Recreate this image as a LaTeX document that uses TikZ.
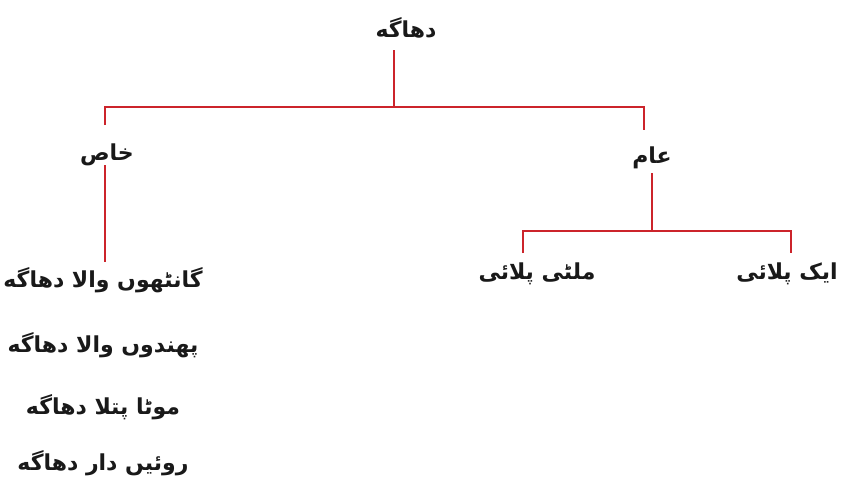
\documentclass[tikz,border=0pt]{standalone}
\usepackage{fontspec}
\newfontfamily\urdu[Script=Arabic]{DejaVu Sans}
\TeXXeTstate=1
\definecolor{linkred}{RGB}{204,36,43}
\tikzset{
  link/.style={draw=linkred, line width=2.6pt},
  label/.style={inner sep=0pt, font=\urdu\bfseries\fontsize{22}{26}\selectfont, text=black!90}
}
\begin{document}
\begin{tikzpicture}[x=1pt,y=-1pt]
\useasboundingbox (0,0) rectangle (847,490);
% labels
\node[label] (root)  at (406,28)  {\beginR دھاگه\endR};
\node[label] (khas)  at (107,155) {\beginR خاص\endR};
\node[label] (aam)   at (652,158) {\beginR عام\endR};
\node[label] (multi) at (537,274) {\beginR ملٹی پلائی\endR};
\node[label] (ek)    at (787,274) {\beginR ایک پلائی\endR};
\node[label] (l1)    at (103,280) {\beginR گانٹھوں والا دھاگه\endR};
\node[label] (l2)    at (103,345) {\beginR پھندوں والا دھاگه\endR};
\node[label] (l3)    at (103,407) {\beginR موٹا پتلا دھاگه\endR};
\node[label] (l4)    at (103,463) {\beginR روئیں دار دھاگه\endR};
% connector ends
\coordinate (rootfoot) at (394,50);
\coordinate (j0)       at (394,107);
\coordinate (khastop)  at (105,125);
\coordinate (aamtop)   at (644,130);
\coordinate (khasfoot) at (105,165);
\coordinate (listtop)  at (105,262);
\coordinate (aamfoot)  at (652,173);
\coordinate (j1)       at (652,231);
\coordinate (multitop) at (523,253);
\coordinate (ektop)    at (791,253);
% tree lines
\draw[link] (rootfoot) -- (j0);
\draw[link] (khastop) |- (j0) -| (aamtop);
\draw[link] (khasfoot) -- (listtop);
\draw[link] (aamfoot) -- (j1);
\draw[link] (multitop) |- (j1) -| (ektop);
\end{tikzpicture}
\end{document}
